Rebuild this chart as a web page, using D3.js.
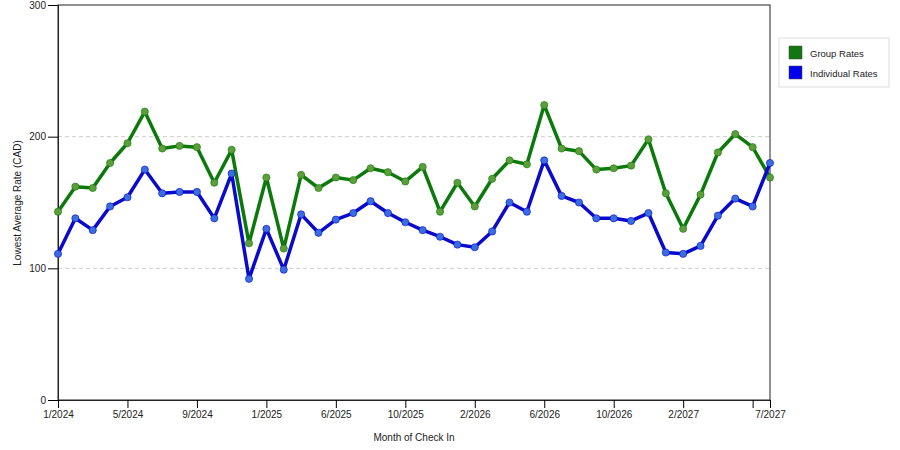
<!DOCTYPE html>
<html>
<head>
<meta charset="utf-8">
<script src="https://cdn.jsdelivr.net/npm/d3@7"></script>
<style>
  body { margin: 0; background: #fff; }
  svg { font-family: "Liberation Sans", Arial, sans-serif; }
  .grid line { stroke: #ccc; stroke-dasharray: 4,3; }
</style>
</head>
<body>
<svg id="chart" width="900" height="450"></svg>
<script>
(function () {
    "use strict";

    // months on the x axis (one month of 2025 has no data)
    var months = [
        "1/2024", "2/2024", "3/2024", "4/2024", "5/2024", "6/2024", "7/2024", "8/2024",
        "9/2024", "10/2024", "11/2024", "12/2024", "1/2025", "2/2025", "4/2025", "5/2025",
        "6/2025", "7/2025", "8/2025", "9/2025", "10/2025", "11/2025", "12/2025", "1/2026",
        "2/2026", "3/2026", "4/2026", "5/2026", "6/2026", "7/2026", "8/2026", "9/2026",
        "10/2026", "11/2026", "12/2026", "1/2027", "2/2027", "3/2027", "4/2027", "5/2027",
        "6/2027", "7/2027"
    ];

    var groupRates = [
        143, 162, 161, 180, 195, 219, 191, 193, 192, 165, 190, 119, 169, 115, 171, 161,
        169, 167, 176, 173, 166, 177, 143, 165, 147, 168, 182, 179, 224, 191, 189, 175,
        176, 178, 198, 157, 130, 156, 188, 202, 192, 169
    ];

    var individualRates = [
        111, 138, 129, 147, 154, 175, 157, 158, 158, 138, 172, 92, 130, 99, 141, 127,
        137, 142, 151, 142, 135, 129, 124, 118, 116, 128, 150, 143, 182, 155, 150, 138,
        138, 136, 142, 112, 111, 117, 140, 153, 147, 180
    ];

    var yTicks = [0, 100, 200, 300];
    var tickIdx = [0, 4, 8, 12, 16, 20, 24, 28, 32, 36, 40, 41];
    var labelIdx = [0, 4, 8, 12, 16, 20, 24, 28, 32, 36, 41];

    var series = [
        { name: "Group Rates", values: groupRates, color: "#0b7a0b", fill: "#5e9e3a", key: "#117711" },
        { name: "Individual Rates", values: individualRates, color: "#0a0acc", fill: "#3a6ee0", key: "#0000ee" }
    ];

    var margin = { left: 58, top: 5, right: 130, bottom: 50 };
    var width = 770 - margin.left;
    var height = 400 - margin.top;

    var svg = d3.select("#chart");
    var g = svg.append("g").attr("transform", "translate(" + margin.left + "," + margin.top + ")");

    var x = d3.scaleLinear().domain([0, months.length - 1]).range([0, width]);
    var y = d3.scaleLinear().domain([0, 300]).range([height, 0]);

    // dashed grid
    g.append("g").attr("class", "grid")
        .selectAll("line").data([100, 200]).enter().append("line")
        .attr("x1", 0).attr("x2", width)
        .attr("y1", function (d) { return y(d); })
        .attr("y2", function (d) { return y(d); });

    // frame
    g.append("rect").attr("width", width).attr("height", height)
        .attr("fill", "none").attr("stroke", "#222").attr("stroke-width", 1);

    // y axis
    var yAxis = d3.axisLeft(y).tickValues(yTicks).tickSize(10).tickPadding(2);
    var $y = g.append("g").call(yAxis);
    $y.select(".domain").attr("stroke", "#222");
    $y.selectAll("text").attr("font-size", 10).attr("fill", "#222");

    // x axis
    var xAxis = d3.axisBottom(x).tickValues(tickIdx).tickSize(8).tickPadding(3)
        .tickFormat(function (i) { return labelIdx.indexOf(i) >= 0 ? months[i] : ""; });
    var $x = g.append("g").attr("transform", "translate(0," + height + ")").call(xAxis);
    $x.select(".domain").attr("stroke", "#222");
    $x.selectAll("text").attr("font-size", 10).attr("fill", "#222");

    svg.append("text")
        .attr("x", margin.left + width / 2).attr("y", 441)
        .attr("text-anchor", "middle").attr("font-size", 10).attr("fill", "#222")
        .text("Month of Check In");

    svg.append("text")
        .attr("transform", "translate(21,203) rotate(-90)")
        .attr("text-anchor", "middle").attr("font-size", 10).attr("fill", "#222")
        .text("Lowest Average Rate (CAD)");

    var line = d3.line()
        .x(function (d, i) { return x(i); })
        .y(function (d) { return y(d); });

    series.forEach(function (s) {
        g.append("path").datum(s.values)
            .attr("fill", "none").attr("stroke", s.color)
            .attr("stroke-width", 3.5).attr("stroke-linejoin", "round")
            .attr("d", line);
        g.append("g").selectAll("circle").data(s.values).enter().append("circle")
            .attr("cx", function (d, i) { return x(i); })
            .attr("cy", function (d) { return y(d); })
            .attr("r", 3.6)
            .attr("fill", s.fill)
            .attr("stroke", s.color).attr("stroke-opacity", 0.6).attr("stroke-width", 1);
    });

    // legend
    var $legend = svg.append("g").attr("transform", "translate(779,38)");
    $legend.append("rect").attr("width", 110).attr("height", 49)
        .attr("fill", "#fff").attr("stroke", "#ddd");
    series.forEach(function (s, i) {
        $legend.append("rect").attr("x", 10).attr("y", 8 + i * 20)
            .attr("width", 13).attr("height", 13)
            .attr("fill", s.key)
            .attr("stroke", "#444").attr("stroke-width", 0.5);
        $legend.append("text").attr("x", 31).attr("y", 19 + i * 20)
            .attr("font-size", 9.5).attr("fill", "#222").text(s.name);
    });
})();
</script>
</body>
</html>
